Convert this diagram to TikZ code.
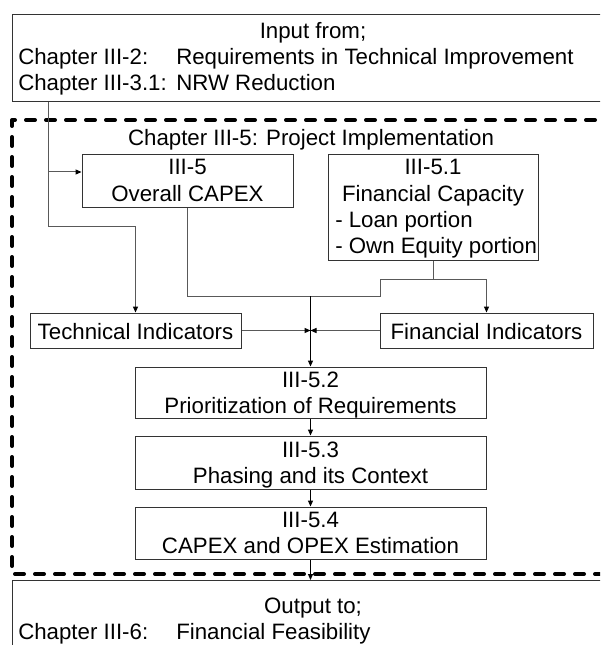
\documentclass[tikz,border=0pt]{standalone}
\usepackage{fontspec}
\setmainfont{Liberation Sans}
\usetikzlibrary{arrows.meta}
\begin{document}
\begin{tikzpicture}[x=0.75pt,y=-0.75pt,
  box/.style={draw=black!80, line width=0.75pt, inner sep=0pt, rectangle},
  txt/.style={font=\fontsize{16.7}{20}\selectfont, inner sep=0pt, anchor=base},
  txtw/.style={txt, anchor=base west},
  conn/.style={draw=black!65, line width=0.75pt},
  arr/.style={conn, -{Triangle[length=4.5pt,width=3.8pt,color=black]}},
  dashbox/.style={draw=black, line width=3pt, line cap=round, line join=round, dash pattern=on 6.75pt off 8.25pt},
  ]
\useasboundingbox (0,0) rectangle (600,645);
\clip (0,0) rectangle (600,645);

% dashed frame
\draw[dashbox] (615,120) -- (12,120) -- (12,574) -- (615,574);

% boxes
\node[box, minimum width=452.25pt, minimum height=65.25pt] (top) at (313.5,58.5) {};
\node[box, minimum width=452.25pt, minimum height=80.25pt] (out) at (313.5,634) {};
\node[box, minimum width=158.25pt, minimum height=39.75pt] (capex) at (187.5,181.5) {};
\node[box, minimum width=157.5pt, minimum height=78.75pt] (fc) at (433,207.5) {};
\node[box, minimum width=158.25pt, minimum height=26.25pt] (tech) at (135.5,330.5) {};
\node[box, minimum width=159.75pt, minimum height=26.25pt] (fin) at (486.5,330.5) {};
\node[box, minimum width=263.25pt, minimum height=38.25pt] (p52) at (310.5,392.5) {};
\node[box, minimum width=263.25pt, minimum height=39.75pt] (p53) at (310.5,462.5) {};
\node[box, minimum width=263.25pt, minimum height=39pt] (p54) at (310.5,533) {};

% texts
\node[txt] (t1) at (313,39) {Input from;};
\node[txtw] (t2) at (18,65) {Chapter III-2:};
\node[txtw] (t3) at (176,65) {Requirements in Technical Improvement};
\node[txtw] (t4) at (18,91) {Chapter III-3.1:};
\node[txtw] (t5) at (176,91) {NRW Reduction};

\node[txt] (t6) at (311,146) {Chapter III-5: Project Implementation};

\node[txt] (t7) at (187.5,175) {III-5};
\node[txt] (t8) at (187.5,201) {Overall CAPEX};

\node[txt] (t9) at (433,175) {III-5.1};
\node[txt] (t10) at (433,201) {Financial Capacity};
\node[txtw] (t11) at (335,227) {- Loan portion};
\node[txtw] (t12) at (335,253) {- Own Equity portion};

\node[txt] (t13) at (135.5,339) {Technical Indicators};
\node[txt] (t14) at (486.5,339) {Financial Indicators};

\node[txt] (t15) at (310.5,387) {III-5.2};
\node[txt] (t16) at (310.5,413) {Prioritization of Requirements};
\node[txt] (t17) at (310.5,457) {III-5.3};
\node[txt] (t18) at (310.5,483) {Phasing and its Context};
\node[txt] (t19) at (310.5,527) {III-5.4};
\node[txt] (t20) at (310.5,553) {CAPEX and OPEX Estimation};

\node[txt] (t21) at (313,613) {Output to;};
\node[txtw] (t22) at (18,639) {Chapter III-6:};
\node[txtw] (t23) at (176,639) {Financial Feasibility};

% connectors
\coordinate (vL) at (48,226);
\coordinate (bL) at (48,172);
\coordinate (h1) at (380,296);
\coordinate (h2) at (380,279);
\coordinate (m) at (310.5,296);

\draw[arr] (top.south -| vL) -- (vL) -| (tech.north);
\draw[arr] (bL) -- (capex.west |- bL);
\draw[arr] (capex.south) |- (h1) -- (h2) -| (fin.north);
\draw[conn] (fc.south) -- (fc.south |- h2);
\draw[arr, draw=black] (m) -- (p52.north);
\draw[arr] (tech.east) -- (tech.east -| m);
\draw[arr] (fin.west) -- (fin.west -| m);
\draw[arr, draw=black] (p52.south) -- (p53.north);
\draw[arr, draw=black] (p53.south) -- (p54.north);
\draw[arr, draw=black] (p54.south) -- (p54.south |- out.north);
\end{tikzpicture}
\end{document}
